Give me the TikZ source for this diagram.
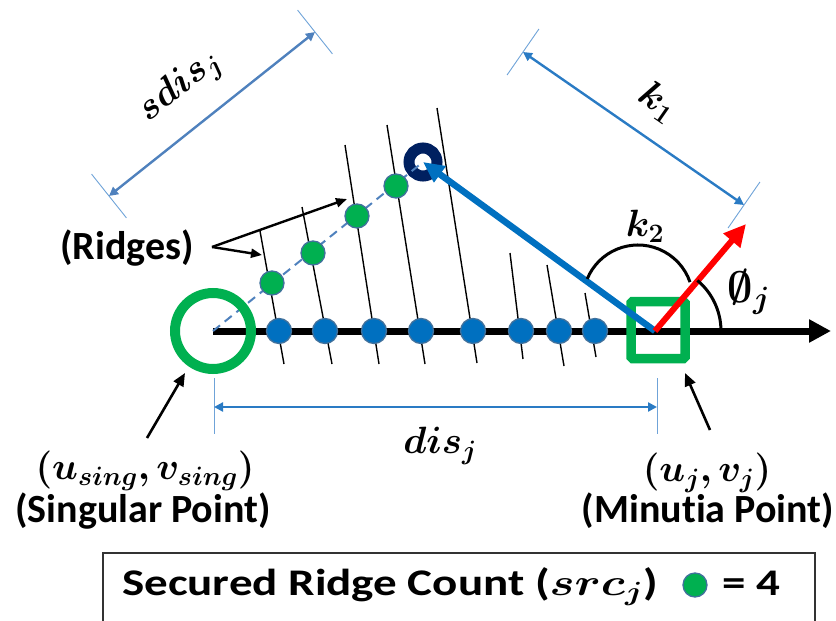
\RequirePackage{fix-cm}
\documentclass[tikz,border=0pt]{standalone}
\usepackage{amsmath,amssymb,bm}
\usepackage{fontspec}
\setmainfont{Carlito}[Ligatures=NoCommon]
\usetikzlibrary{arrows.meta,calc}
\definecolor{ogreen}{HTML}{00B050}
\definecolor{oblue}{HTML}{0070C0}
\definecolor{dimblue}{HTML}{2A7BC4}
\definecolor{steel}{HTML}{4F81BD}
\definecolor{tickblue}{HTML}{6FA3D8}
\definecolor{navy}{HTML}{002060}
\definecolor{outl}{HTML}{41719C}
\begin{document}
\begin{tikzpicture}[x=1pt,y=-1pt,
  lbl/.style={font=\fontsize{40}{44}\selectfont\bfseries, inner sep=0pt},
  leglbl/.style={font=\fontsize{47}{51}\selectfont\bfseries, inner sep=0pt},
  mth/.style={font=\fontsize{38}{42}\selectfont, inner sep=0pt},
  bdot/.style={circle, fill=oblue, draw=outl, line width=1.3pt, minimum size=25pt, inner sep=0pt},
  gdot/.style={circle, fill=ogreen, draw=outl, line width=1.3pt, minimum size=24pt, inner sep=0pt},
  ridge/.style={line width=1.4pt, black},
  dimarrow/.style={line width=2.4pt, {Triangle[length=9pt,width=9pt]}-{Triangle[length=9pt,width=9pt]}},
  dimtick/.style={tickblue, line width=0.9pt},
  pointer/.style={line width=2.6pt, -{Triangle[length=13pt,width=11pt]}},
]
\useasboundingbox (0,0) rectangle (836,621);

% ridges
\foreach \i/\ax/\ay/\bx/\by in {1/260/231/284/364, 2/302/207/332/364, 3/345/145/379/364, 4/387/125/425/364, 5/437/108/477/363, 6/510/253/523/359, 7/547/265/564/366, 8/585/293/596/357} {
  \coordinate (rt\i) at (\ax,\ay);
  \coordinate (rb\i) at (\bx,\by);
  \draw[ridge] (rt\i) -- (rb\i);
}

% main points
\coordinate (S) at (213,331);
\coordinate (M) at (655,331);
\coordinate (E) at (831,331);
\coordinate (D) at (746,224);

% axis
\draw[line width=7pt, -{Triangle[length=22pt,width=22pt]}] (S) -- (E);

% navy ring (ridge end point)
\node[circle, draw=navy, line width=11pt, minimum size=28pt, inner sep=0pt] (ring) at (423,162) {};

% dashed line singular -> ridge end
\draw[steel, line width=2pt, dash pattern=on 9pt off 6pt] (S) -- (ring.center);

% blue dots on axis
\foreach \j/\x in {1/279,2/325,3/374,4/421,5/473,6/521,7/559,8/595} {
  \node[bdot] (b\j) at (\x,331) {};
}
% green dots (secured ridges)
\foreach \j/\x/\y in {1/272/283,2/313/253,3/357/216,4/396/186} {
  \node[gdot] (g\j) at (\x,\y) {};
}

% singular point circle
\node[circle, draw=ogreen, line width=10pt, minimum size=76pt, inner sep=0pt] (sing) at (S) {};

% minutia square
\node[draw=ogreen, line width=9.5pt, minimum width=54pt, minimum height=57pt, inner sep=0pt, rounded corners=1.5pt] (sq) at (658,330) {};

% blue arrow minutia -> ridge end
\draw[oblue, line width=6.5pt, -{Triangle[length=21pt,width=19pt]}] (M) -- (ring.center);

% red direction arrow
\draw[red, line width=6pt, -{Triangle[length=22pt,width=21pt]}] (M) -- (D);

% angle arcs
\draw[line width=3pt] ([shift={(-157.5:55)}]638,300) arc[start angle=-157.5, end angle=-19, radius=55];
\draw[line width=3pt] ([shift={(-50:66)}]655,331) arc[start angle=-50, end angle=0, radius=66];
\node[mth] (k2) at (645,226) {$\bm{k_2}$};
\node[mth, font=\fontsize{44}{48}\selectfont] (phi) at (749,292) {$\bm{\emptyset_{j}}$};

% sdis dimension
\coordinate (sA) at (109,196);
\coordinate (sB) at (315,32);
\draw[steel, dimarrow] (sA) -- (sB);
\draw[dimtick] ($(sA)!28pt!90:(sB)$) -- ($(sA)!28pt!-90:(sB)$);
\draw[dimtick] ($(sB)!28pt!90:(sA)$) -- ($(sB)!28pt!-90:(sA)$);
\node[mth, rotate=38.6] (sdis) at (180,87) {$\bm{sdis_j}$};

% k1 dimension
\coordinate (kA) at (523,52);
\coordinate (kB) at (744,205);
\draw[dimblue, dimarrow] (kA) -- (kB);
\draw[dimtick] ($(kA)!28pt!90:(kB)$) -- ($(kA)!28pt!-90:(kB)$);
\draw[dimtick] ($(kB)!28pt!90:(kA)$) -- ($(kB)!28pt!-90:(kA)$);
\node[mth, rotate=-34.8] (k1) at (658,102) {$\bm{k_1}$};

% dis dimension
\coordinate (dA) at (214,407);
\coordinate (dB) at (657,407);
\coordinate (dAt) at (214,378);
\coordinate (dAb) at (214,434);
\coordinate (dBt) at (657,378);
\coordinate (dBb) at (657,434);
\draw[dimtick] (dAt) -- (dAb);
\draw[dimtick] (dBt) -- (dBb);
\draw[dimblue, dimarrow] (dA) -- (dB);
\node[mth] (dis) at (440,446) {$\bm{dis_j}$};

% ridges label
\node[lbl] (rid) at (127,248) {(Ridges)};
\coordinate (rtail) at (212,247);
\coordinate (rh1) at (262,255);
\coordinate (rh2) at (347,199);
\draw[line width=2.4pt, -{Triangle[length=11pt,width=9pt]}] (rtail) -- (rh1);
\draw[line width=2.4pt, -{Triangle[length=11pt,width=9pt]}] (rtail) -- (rh2);

% bottom labels
\node[mth] (usv) at (145,471) {$\bm{(u_{sing},v_{sing})}$};
\node[lbl] (spl) at (143,511) {(Singular Point)};
\node[mth] (ujv) at (707,473) {$\bm{(u_j,v_j)}$};
\node[lbl] (mpl) at (708,511) {(Minutia Point)};
\coordinate (sp1) at (147,438);
\coordinate (sp2) at (185,373);
\coordinate (mp1) at (710,430);
\coordinate (mp2) at (685,373);
\draw[pointer] (sp1) -- (sp2);
\draw[pointer] (mp1) -- (mp2);

% legend
\draw[line width=1.3pt, black!80] (103,630) -- (103,553) -- (815,553) -- (815,630);
\node[leglbl, anchor=base west] (leg) at (122,595) {\scalebox{1}[0.8]{Secured Ridge Count ($\bm{src_j}$)}};
\node[gdot, minimum size=24pt] (legdot) at (695,585) {};
\node[leglbl, anchor=base west] (legeq) at (722,595) {\scalebox{1}[0.8]{= 4}};
\end{tikzpicture}
\end{document}
